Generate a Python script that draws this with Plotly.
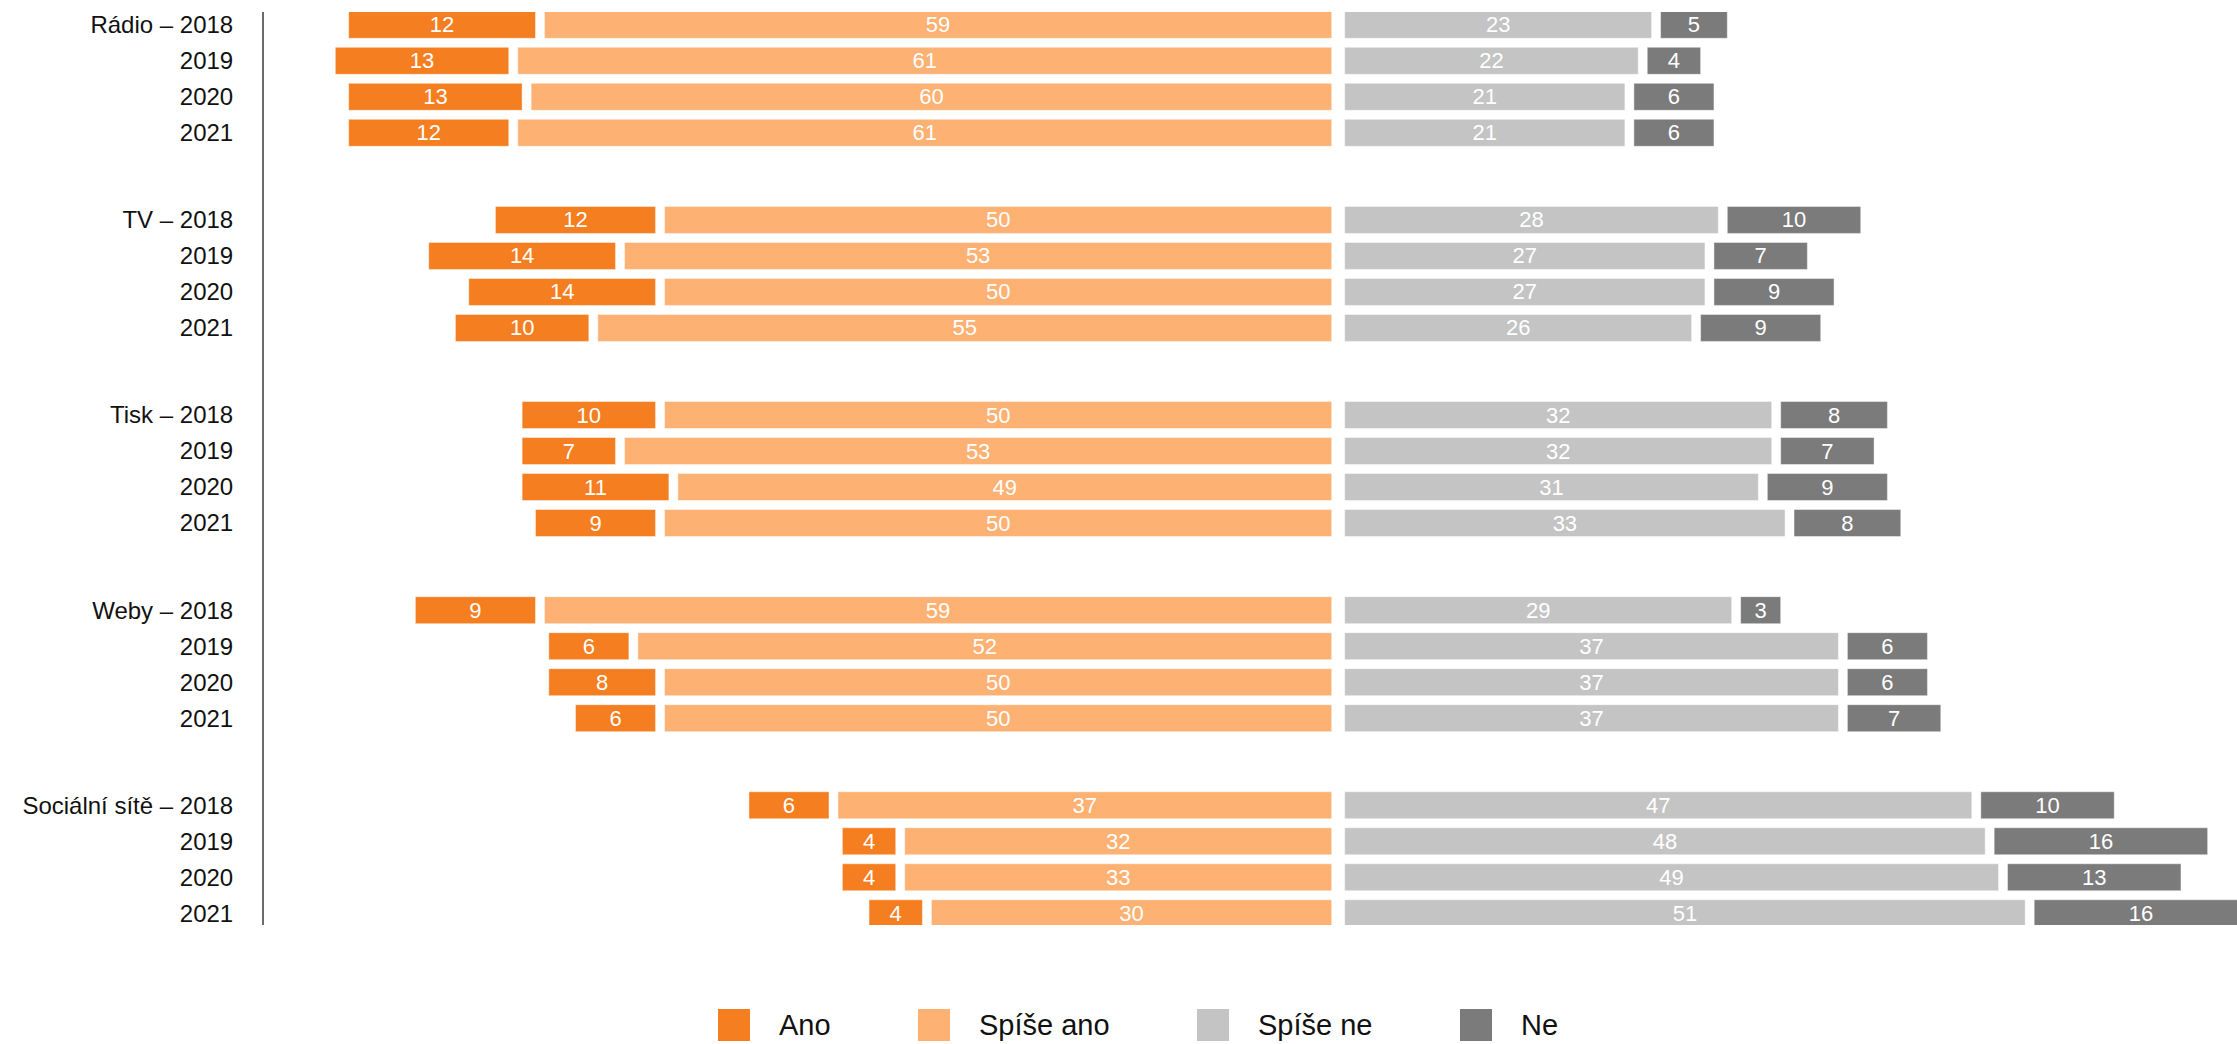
import plotly.graph_objects as go

# --- data ---
media = ["Rádio", "TV", "Tisk", "Weby", "Sociální sítě"]
years = ["2018", "2019", "2020", "2021"]

# bar lengths as drawn, in %
ano = [14, 13, 13, 12, 12, 14, 14, 10, 10, 7, 11, 9, 9, 6, 8, 6, 6, 4, 4, 4]
spise_ano = [59, 61, 60, 61, 50, 53, 50, 55, 50, 53, 49, 50, 59, 52, 50, 50, 37, 32, 32, 30]
spise_ne = [23, 22, 21, 21, 28, 27, 27, 26, 32, 32, 31, 33, 29, 37, 37, 37, 47, 48, 49, 51]
ne = [5, 4, 6, 6, 10, 7, 9, 9, 8, 7, 9, 8, 3, 6, 6, 7, 10, 16, 13, 16]

# numbers printed on the bars (two differ from the drawn lengths in the original)
ano_labels = [12, 13, 13, 12, 12, 14, 14, 10, 10, 7, 11, 9, 9, 6, 8, 6, 6, 4, 4, 4]
spise_ano_labels = [59, 61, 60, 61, 50, 53, 50, 55, 50, 53, 49, 50, 59, 52, 50, 50, 37, 32, 33, 30]

series_names = ["Ano", "Spíše ano", "Spíše ne", "Ne"]
colors = ["#F47E20", "#FDB173", "#C4C4C4", "#7B7B7B"]

# --- layout constants ---
W, H = 2237, 1044
ML, MR, MT, MB = 264, 0, 12, 119
PX_PER_UNIT = 13.343
CENTER_PX = 1338.2
GC = 6.5 / PX_PER_UNIT      # half of the centre gap
GAP = 9.0 / PX_PER_UNIT     # gap between neighbouring segments
GROUP_STEP = 5.42
FONT = "Liberation Sans, Arial, Helvetica, sans-serif"

ypos = []
ticktext = []
for g, m in enumerate(media):
    for i, yr in enumerate(years):
        ypos.append(g * GROUP_STEP + i)
        ticktext.append(f"{m} – {yr}" if i == 0 else yr)

# bases so that segments diverge from the centre with small white gaps
base_sa = [-(v + GC) for v in spise_ano]
base_a = [-(sa + GC + GAP + a) for a, sa in zip(ano, spise_ano)]
base_sn = [GC for _ in spise_ne]
base_n = [GC + sn + GAP for sn in spise_ne]

traces = [
    (ano, base_a, ano_labels),
    (spise_ano, base_sa, spise_ano_labels),
    (spise_ne, base_sn, spise_ne),
    (ne, base_n, ne),
]

fig = go.Figure()
for (vals, bases, labels), name, col in zip(traces, series_names, colors):
    fig.add_trace(go.Bar(
        y=ypos, x=vals, base=bases, orientation="h", name=name,
        width=0.75,
        marker=dict(color=col, line=dict(color="rgba(255,255,255,0.45)", width=1)),
        text=[str(v) for v in labels],
        textposition="inside", insidetextanchor="middle", constraintext="none",
        textangle=0,
        textfont=dict(color="white", size=22, family=FONT),
        showlegend=False, hoverinfo="skip",
    ))

plot_w = W - ML - MR
plot_h = H - MT - MB
x_left = -(CENTER_PX - ML) / PX_PER_UNIT
x_right = (W - MR - CENTER_PX) / PX_PER_UNIT
y_top = -(24.8 - MT) / 36.0
y_bottom = y_top + plot_h / 36.0

fig.update_layout(
    width=W, height=H,
    margin=dict(l=ML, r=MR, t=MT, b=MB, pad=0),
    plot_bgcolor="white", paper_bgcolor="white",
    barmode="overlay",
    font=dict(family=FONT, color="#111111"),
    xaxis=dict(range=[x_left, x_right], visible=False, fixedrange=True),
    yaxis=dict(
        range=[y_bottom, y_top],
        tickvals=ypos, ticktext=ticktext,
        tickfont=dict(size=24, color="#111111", family=FONT),
        showgrid=False, zeroline=False,
        showline=True, linecolor="#6b6b6b", linewidth=2,
        ticks="", ticklabelstandoff=24,
    ),
)

# hand-made legend with large square keys
def px_x(px):
    return (px - ML) / plot_w

def px_y(px):
    return (H - MB - px) / plot_h

legend_left_px = [718, 918, 1197, 1460]
for name, col, lx in zip(series_names, colors, legend_left_px):
    fig.add_shape(type="rect", xref="paper", yref="paper",
                  x0=px_x(lx), x1=px_x(lx + 32), y0=px_y(1041), y1=px_y(1009),
                  fillcolor=col, line=dict(width=0))
    fig.add_annotation(xref="paper", yref="paper", x=px_x(lx + 59), y=px_y(1025),
                       text=name, showarrow=False, xanchor="left", yanchor="middle",
                       font=dict(size=29, color="#111111", family=FONT))

# drop the browser's default page margin so the figure sits at the top-left corner
fig.write_html("out.html",
               config={"displayModeBar": False},
               post_script="document.body.style.margin='0';document.body.style.overflow='hidden';")
